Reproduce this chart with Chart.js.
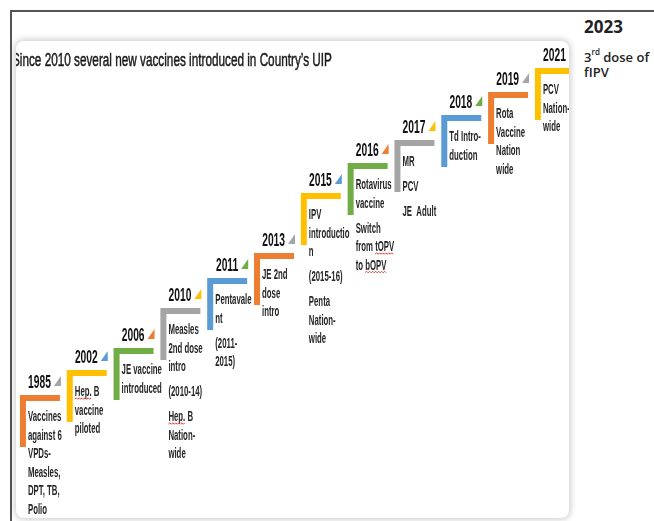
<!DOCTYPE html>
<html>
<head>
    <title>UIP vaccines</title>
    <style>
        body { margin: 0; width: 654px; height: 521px; background: #fff; position: relative; overflow: hidden; }
        /* outer frame: only top and left lines show */
        #frame { position: absolute; left: 10px; top: 10px; width: 660px; height: 530px;
                 border-top: 2px solid #555; border-left: 2px solid #555; }
        /* inner picture with soft shadow */
        #box { position: absolute; left: 16px; top: 41px; width: 553px; height: 477px;
               background: #fff; border-radius: 8px; box-shadow: 0 0 6px 2px rgba(0,0,0,0.18); }
        #clip { position: absolute; left: 16px; top: 41px; width: 553px; height: 477px; overflow: hidden; }
        #clip canvas { position: absolute; left: -16px; top: -41px; }
        #title { position: absolute; left: -4px; top: 10px; font: 18px 'Liberation Sans', sans-serif;
                 line-height: 18px; color: #1a1a1a; white-space: nowrap; -webkit-text-stroke: 0.5px #1a1a1a;
                 transform: scaleX(0.653); transform-origin: 0 0; }
        #year2023 { position: absolute; left: 584px; top: 18px; font: bold 17px 'Open Sans', sans-serif;
                    line-height: 17px; color: #222; }
        #note2023 { position: absolute; left: 584px; top: 50px; font: 600 13px 'Open Sans', sans-serif;
                    line-height: 15px; color: #222; }
        #note2023 sup { font-size: 8px; vertical-align: 7px; line-height: 0; }
    </style>
</head>
<body>
    <div id="frame"></div>
    <div id="box"></div>
    <div id="clip">
        <canvas id="stairs" width="654" height="521"></canvas>
        <div id="title">Since 2010 several new vaccines introduced in Country’s UIP</div>
    </div>
    <div id="year2023">2023</div>
    <div id="note2023">3<sup>rd</sup> dose of<br>fIPV</div>

    <script src="https://cdn.jsdelivr.net/npm/chart.js"></script>
    <script>
        // years on the stairs
        const years = ['1985', '2002', '2006', '2010', '2011', '2013', '2015', '2016', '2017', '2018', '2019', '2021'];
        // height of each step
        const stepLevel = [123, 148, 170, 210, 240, 265, 325, 355, 378, 403, 426, 450];
        // text under each step, grouped in paragraphs
        const notes = [
            [['Vaccines', 'against 6', 'VPDs-', 'Measles,', 'DPT, TB,', 'Polio']],
            [['Hep. B', 'vaccine', 'piloted']],
            [['JE vaccine', 'introduced']],
            [['Measles', '2nd dose', 'intro'], ['(2010-14)'], ['Hep. B', 'Nation-', 'wide']],
            [['Pentavale', 'nt'], ['(2011-', '2015)']],
            [['JE 2nd', 'dose', 'intro']],
            [['IPV', 'introductio', 'n'], ['(2015-16)'], ['Penta', 'Nation-', 'wide']],
            [['Rotavirus', 'vaccine'], ['Switch', 'from tOPV', 'to bOPV']],
            [['MR'], ['PCV'], ['JE  Adult']],
            [['Td Intro-', 'duction']],
            [['Rota', 'Vaccine', 'Nation', 'wide']],
            [['PCV', 'Nation-', 'wide']]
        ];
        // words with the red spell-check wave
        const squiggly = ['Hep.', 'tOPV', 'bOPV'];

        const palette = ['#ED7D31', '#FFC000', '#70AD47', '#A5A5A5', '#5B9BD5'];
        const tread = 0.79;   // horizontal part of each step, in step units
        const rise = 49;      // vertical part below the step

        function drawCondensed(ctx, text, x, y, sx, align) {
            ctx.save();
            ctx.translate(x, y);
            ctx.scale(sx, 1);
            ctx.textAlign = align;
            ctx.fillText(text, 0, 0);
            ctx.restore();
        }

        function wave(ctx, x0, x1, y) {
            ctx.save();
            ctx.strokeStyle = '#e23a3a';
            ctx.lineWidth = 1;
            ctx.beginPath();
            let up = true;
            ctx.moveTo(x0, y);
            for (let x = x0 + 1.5; x <= x1; x += 1.5) {
                ctx.lineTo(x, up ? y - 1.2 : y + 0.3);
                up = !up;
            }
            ctx.stroke();
            ctx.restore();
        }

        const labelPlugin = {
            id: 'stepLabels',
            afterDatasetsDraw(chart) {
                const ctx = chart.ctx;
                const xs = chart.scales.x;
                const ys = chart.scales.y;
                years.forEach((yr, i) => {
                    const xc = xs.getPixelForValue(i);
                    const xe = xs.getPixelForValue(i + tread);
                    const yc = ys.getPixelForValue(stepLevel[i]);

                    // small corner triangle
                    ctx.fillStyle = palette[(i + 3) % 5];
                    ctx.beginPath();
                    ctx.moveTo(xe - 6, yc - 12);
                    ctx.lineTo(xe + 1, yc - 12);
                    ctx.lineTo(xe + 1, yc - 22);
                    ctx.closePath();
                    ctx.fill();

                    // year
                    ctx.fillStyle = '#111';
                    ctx.font = "bold 18px 'Liberation Sans'";
                    ctx.textBaseline = 'alphabetic';
                    drawCondensed(ctx, yr, xe - 9, yc - 10, 0.57, 'right');

                    // notes
                    ctx.font = "bold 15px 'Liberation Sans'";
                    const sx = 0.52;
                    let y = yc + 23;
                    notes[i].forEach(par => {
                        par.forEach(line => {
                            ctx.fillStyle = '#262626';
                            drawCondensed(ctx, line, xc + 5, y, sx, 'left');
                            squiggly.forEach(w => {
                                const k = line.indexOf(w);
                                if (k >= 0) {
                                    const a = xc + 5 + ctx.measureText(line.slice(0, k)).width * sx;
                                    const b = a + ctx.measureText(w).width * sx;
                                    wave(ctx, a, b, y + 3);
                                }
                            });
                            y += 18.5;
                        });
                        y += 6.5;
                    });
                });
            }
        };

        const datasets = years.map((yr, i) => ({
            label: yr,
            data: [
                { x: i, y: stepLevel[i] - rise },
                { x: i, y: stepLevel[i] },
                { x: i + tread, y: stepLevel[i] }
            ],
            borderColor: palette[i % 5],
            borderWidth: 6,
            borderJoinStyle: 'miter',
            borderCapStyle: 'butt',
            pointRadius: 0,
            tension: 0,
            fill: false
        }));

        new Chart(document.getElementById('stairs'), {
            type: 'line',
            data: { datasets: datasets },
            options: {
                responsive: false,
                animation: false,
                layout: { padding: 0 },
                scales: {
                    x: { type: 'linear', display: false, min: -0.49, max: 13.48 },
                    y: { type: 'linear', display: false, min: 0, max: 521 }
                },
                plugins: {
                    legend: { display: false },
                    tooltip: { enabled: false }
                }
            },
            plugins: [labelPlugin]
        });
    </script>
</body>
</html>
